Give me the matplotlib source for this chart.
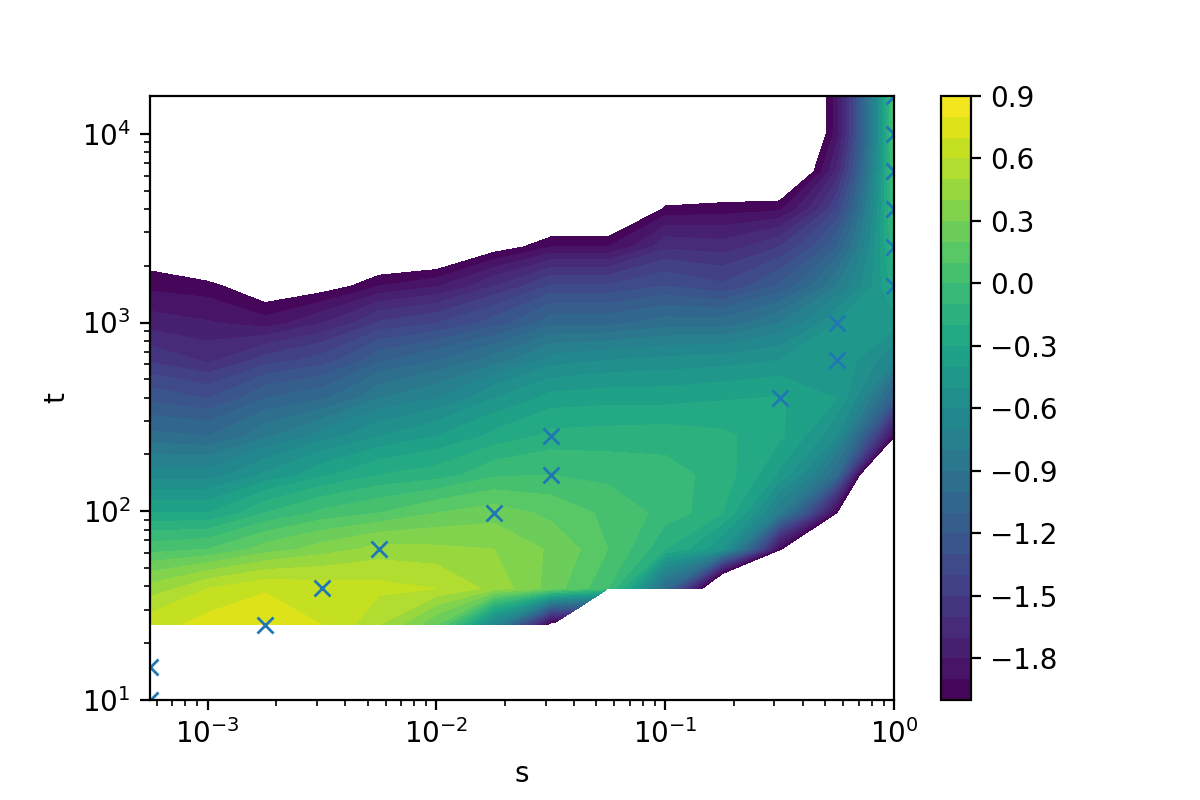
import numpy as np
import matplotlib
matplotlib.use("Agg")
import matplotlib.pyplot as plt

nan = float("nan")

s_grid = [5.6e-4, 1e-3, 1.78e-3, 3.16e-3, 5.62e-3, 1e-2, 1.78e-2, 3.16e-2, 5.62e-2, 0.1, 0.178, 0.316, 0.562, 1.0]
t_grid = [10, 15, 25, 39, 63, 98, 156, 250, 396, 630, 990, 1560, 2512, 3981, 6310, 10000, 15849]

# one row per t value, lowest t first
z_10 = [nan] * 14
z_15 = [nan] * 14
z_25 = [0.66, 0.74, 0.81, 0.70, 0.50, 0.20, -0.70, -2.10, nan, nan, nan, nan, nan, nan]
z_39 = [0.44, 0.60, 0.68, 0.65, 0.63, 0.60, 0.46, 0.25, 0.00, -1.00, -2.72, -4.0, -4.0, -5.0]
z_63 = [0.06, 0.10, 0.25, 0.35, 0.44, 0.42, 0.40, 0.28, 0.10, -0.20, -0.50, -1.95, -4.0, -5.0]
z_98 = [-0.30, -0.30, -0.10, 0.03, 0.10, 0.20, 0.25, 0.17, 0.07, -0.04, -0.20, -0.80, -2.00, -5.0]
z_156 = [-0.65, -0.65, -0.48, -0.32, -0.20, -0.15, -0.02, 0.00, -0.03, -0.06, -0.15, -0.42, -1.00, -4.0]
z_250 = [-0.97, -1.00, -0.82, -0.65, -0.50, -0.40, -0.27, -0.17, -0.16, -0.15, -0.18, -0.28, -0.60, -1.95]
z_396 = [-1.23, -1.30, -1.10, -1.02, -0.80, -0.70, -0.50, -0.36, -0.34, -0.34, -0.31, -0.29, -0.40, -1.15]
z_630 = [-1.52, -1.62, -1.45, -1.35, -1.12, -1.00, -0.85, -0.65, -0.60, -0.57, -0.55, -0.50, -0.42, -0.70]
z_990 = [-1.75, -1.79, -1.85, -1.70, -1.48, -1.40, -1.25, -1.03, -1.03, -0.95, -0.95, -0.80, -0.50, -0.45]
z_1560 = [-1.93, -1.96, -2.15, -2.08, -1.90, -1.81, -1.60, -1.38, -1.38, -1.30, -1.38, -1.18, -0.80, -0.25]
z_2512 = [-2.14, -2.36, -2.60, -2.50, -2.33, -2.33, -2.08, -1.90, -1.90, -1.62, -1.65, -1.50, -1.10, -0.10]
z_3981 = [-2.8, -2.8, -2.8, -2.8, -2.8, -2.8, -2.8, -2.35, -2.35, -1.97, -1.95, -1.92, -1.40, -0.02]
z_6310 = [-3.0, -3.0, -3.0, -3.0, -3.0, -3.0, -3.0, -3.0, -3.0, -2.40, -2.30, -2.36, -1.68, 0.05]
z_10000 = [-3.0, -3.0, -3.0, -3.0, -3.0, -3.0, -3.0, -3.0, -3.0, -3.0, -3.0, -2.50, -1.85, 0.08]
z_15849 = [-3.0, -3.0, -3.0, -3.0, -3.0, -3.0, -3.0, -3.0, -3.0, -3.0, -3.0, -2.50, -1.85, 0.10]

s_pts = [5.6e-4, 5.6e-4, 1.78e-3, 3.16e-3, 5.62e-3, 1.78e-2, 3.16e-2, 3.16e-2, 0.316, 0.562, 0.562, 1, 1, 1, 1, 1, 1]
t_pts = [10, 15, 25, 39, 63, 98, 156, 250, 396, 630, 990, 1560, 2512, 3981, 6310, 10000, 15849]

levels = np.linspace(-2.0, 0.9, 30)
cbar_ticks = [-1.8, -1.5, -1.2, -0.9, -0.6, -0.3, 0.0, 0.3, 0.6, 0.9]

z = np.ma.masked_invalid(np.array([z_10, z_15, z_25, z_39, z_63, z_98, z_156, z_250, z_396,
                                   z_630, z_990, z_1560, z_2512, z_3981, z_6310, z_10000, z_15849]))

fig = plt.figure(figsize=(6, 4), dpi=200)
ax = fig.add_axes([0.125, 0.125, 0.62, 0.755])
cax = fig.add_axes([0.784, 0.125, 0.025, 0.755])

cs = ax.contourf(s_grid, t_grid, z, levels=levels)
ax.plot(s_pts, t_pts, "x")
ax.set_xscale("log")
ax.set_yscale("log")
ax.set_xlim(5.6e-4, 1)
ax.set_ylim(10, 15849)
ax.set_xlabel("s")
ax.set_ylabel("t")
fig.colorbar(cs, cax=cax, ticks=cbar_ticks)

fig.savefig("out.png", dpi=200)
